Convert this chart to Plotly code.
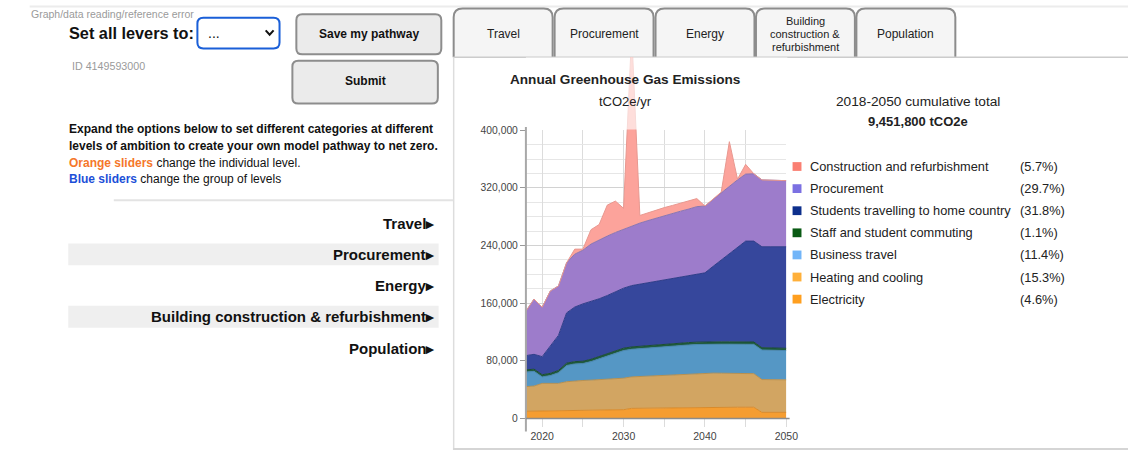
import plotly.graph_objects as go

W, H = 1140, 456
FONT = "Arial, 'Liberation Sans', sans-serif"

# ---------------- data (tCO2e per year) ----------------
years = list(range(2018, 2051))
electricity = [10000, 10200, 10500, 10500, 10600, 10800, 11000, 11200, 11400, 11600, 11800, 12000, 12200,
               14000, 14200, 14400, 14600, 14800, 15000, 15200, 15400, 15500,
               15600, 15600, 15600, 15600, 15600, 15600, 15600,
               8500, 8500, 8500, 8500]
heating = [34200, 34800, 38200, 37700, 38100, 40200, 41300, 41500, 41800, 42100, 42500, 43000, 43700,
           43700, 44100, 44400, 44800, 45200, 45600, 46000, 46400, 46900,
           47400, 47300, 47200, 47100, 46900, 46800, 46600,
           45500, 45300, 45200, 45100]
business = [20200, 20400, 9000, 11300, 14800, 22500, 23400, 23500, 25700, 28800, 31700, 35600, 38300,
            38300, 38700, 39200, 39400, 39600, 39900, 40100, 40200, 40200,
            40000, 40100, 40200, 40300, 40400, 40400, 40600,
            41000, 40900, 40700, 40600]
staff = [3000, 3000, 3000, 3100, 3100, 3200, 3200, 3200, 3200, 3300, 3300, 3300, 3300,
         3300, 3300, 3300, 3300, 3300, 3300, 3300, 3300, 3300,
         3300, 3300, 3300, 3300, 3300, 3300, 3300,
         3200, 3200, 3200, 3200]
students = [19800, 20600, 25100, 37800, 48700, 69800, 75700, 79600, 80400, 80300, 81300, 81700, 83300,
            85100, 86100, 87100, 88200, 89200, 90300, 91500, 92800, 94200,
            95800, 104800, 113800, 122800, 131900, 140000, 140000,
            140100, 140400, 140700, 140900]
procurement = [61600, 76700, 68600, 76500, 68600, 69500, 73400, 74500, 79500, 82000, 82500, 82500, 81800,
               82700, 84700, 86200, 87800, 89500, 90500, 91500, 92500, 93800,
               92700, 93000, 93000, 93000, 93000, 93000, 93500,
               92700, 92400, 92100, 91700]
construction = [0, 0, 0, 0, 0, 0, 7000, 1500, 20000, 21000, 43000, 43500, 29000,
                268000, 10600, 11000, 11000, 11000, 11000, 11000, 11000, 11200,
                0, 0, 1000, 62000, 1000, 13500, 0,
                0, 0, 0, 0]

# bottom -> top stacking order
stack_names = ["Electricity", "Heating and cooling", "Business travel", "Staff and student commuting",
               "Students travelling to home country", "Procurement", "Construction and refurbishment"]
stack_values = [electricity, heating, business, staff, students, procurement, construction]
stack_fill = ["#f59d31", "#d2a562", "#5597c5", "#1f5b3d", "#36479c", "#9d7ccb", "#fca39b"]
stack_line = ["#d98a2a", "#b8904f", "#4a86b0", "#1a4d33", "#2f3d88", "#8a75b0", "#e89890"]

# legend (top -> bottom)
legend_names = ["Construction and refurbishment", "Procurement", "Students travelling to home country",
                "Staff and student commuting", "Business travel", "Heating and cooling", "Electricity"]
legend_colors = ["#fa7f72", "#7b70e2", "#0d2f8c", "#0a5a14", "#72b5f8", "#ffb03a", "#ff9f1f"]
legend_shares = ["(5.7%)", "(29.7%)", "(31.8%)", "(1.1%)", "(11.4%)", "(15.3%)", "(4.6%)"]

x_tick_years = [2020, 2030, 2040, 2050]
x_minor_years = [2025, 2035, 2045]
y_tick_values = [0, 80000, 160000, 240000, 320000, 400000]
y_minor_values = [20000, 40000, 60000, 100000, 120000, 140000, 180000, 200000, 220000,
                  260000, 280000, 300000, 340000, 360000, 380000]

tab_labels = [["Travel"], ["Procurement"], ["Energy"], ["Building", "construction &", "refurbishment"],
              ["Population"]]
menu_labels = ["Travel", "Procurement", "Energy", "Building construction & refurbishment", "Population"]
cumulative_total = "9,451,800 tCO2e"


# ---------------- helpers (pixel -> paper) ----------------
def px(x):
    return x / W


def py(y):
    return 1 - y / H


def f(v):
    return f"{v:.5f}"


def pt(x, y):
    return f"{f(px(x))},{f(py(y))}"


def rrect_path(x0, y0, x1, y1, r):
    return (f"M {pt(x0 + r, y0)} L {pt(x1 - r, y0)} Q {pt(x1, y0)} {pt(x1, y0 + r)} "
            f"L {pt(x1, y1 - r)} Q {pt(x1, y1)} {pt(x1 - r, y1)} L {pt(x0 + r, y1)} "
            f"Q {pt(x0, y1)} {pt(x0, y1 - r)} L {pt(x0, y0 + r)} Q {pt(x0, y0)} {pt(x0 + r, y0)} Z")


def tab_fill_path(x0, y0, x1, y1, r):
    return (f"M {pt(x0, y1)} L {pt(x0, y0 + r)} Q {pt(x0, y0)} {pt(x0 + r, y0)} "
            f"L {pt(x1 - r, y0)} Q {pt(x1, y0)} {pt(x1, y0 + r)} L {pt(x1, y1)} Z")


def tab_line_path(x0, y0, x1, y1, r):
    return (f"M {pt(x0, y1)} L {pt(x0, y0 + r)} Q {pt(x0, y0)} {pt(x0 + r, y0)} "
            f"L {pt(x1 - r, y0)} Q {pt(x1, y0)} {pt(x1, y0 + r)} L {pt(x1, y1)}")


shapes = []
annotations = []


def text(s, x, y, size, color="#222", anchor="left", bold=False):
    annotations.append(dict(
        text=f"<b>{s}</b>" if bold else s, x=px(x), y=py(y), xref="paper", yref="paper",
        xanchor=anchor, yanchor="middle", showarrow=False,
        font=dict(family=FONT, size=size, color=color), borderpad=0))


def hline(x0, x1, y, color, width, layer="below"):
    shapes.append(dict(type="line", xref="paper", yref="paper", x0=px(x0), x1=px(x1), y0=py(y), y1=py(y),
                       line=dict(color=color, width=width), layer=layer))


def vline(x, y0, y1, color, width, layer="below"):
    shapes.append(dict(type="line", xref="paper", yref="paper", x0=px(x), x1=px(x), y0=py(y0), y1=py(y1),
                       line=dict(color=color, width=width), layer=layer))


# ---------------- chart geometry ----------------
PL, PR = 531.5, 794.7          # plot left/right px
Y0, Y400, YTOP = 423.7, 128.3, 53.5
R_TOP = 400000 * (Y0 - YTOP) / (Y0 - Y400)

fig = go.Figure()

# dummy trace for grid subplot
fig.add_trace(go.Scatter(x=[years[0]], y=[0], mode="none", xaxis="x", yaxis="y",
                         hoverinfo="skip", showlegend=False))

for name, vals, fc, lc in zip(stack_names, stack_values, stack_fill, stack_line):
    fig.add_trace(go.Scatter(
        x=years, y=vals, name=name, stackgroup="one", mode="lines",
        line=dict(color=lc, width=1), fillcolor=fc,
        xaxis="x2", yaxis="y2", hoverinfo="skip", showlegend=False))

# ---------------- page decoration ----------------
hline(30, 1140, 1.5, "#ececec", 2)

# tabs
tab_lefts = [458.5, 560.5, 662.5, 764.0, 865.5]
for lines, x0 in zip(tab_labels, tab_lefts):
    x1 = x0 + 100
    shapes.append(dict(type="path", xref="paper", yref="paper", path=tab_fill_path(x0, 3.5, x1, 53.5, 9),
                       fillcolor="#f5f5f5", line=dict(width=0), layer="below"))
    shapes.append(dict(type="path", xref="paper", yref="paper", path=tab_line_path(x0, 3.5, x1, 53.5, 9),
                       fillcolor="rgba(0,0,0,0)", line=dict(color="#8c8c8c", width=2), layer="below"))
    if len(lines) == 1:
        text(lines[0], (x0 + x1) / 2, 29.5, 12, "#222", "center")
    else:
        for k, ln in enumerate(lines):
            text(ln, (x0 + x1) / 2, 16 + 13.4 * k, 11, "#222", "center")

# panel borders
hline(458, 1140, 53.5, "#cccccc", 1.5)
vline(458.5, 53.5, 456, "#dddddd", 1.5)
hline(458, 1140, 455, "#d5d5d5", 2)

# left controls
text("Graph/data reading/reference error", 30.5, 9.5, 10.5, "#9a9a9a")
text("Set all levers to:", 69, 28.5, 16.3, "#111", bold=True)
shapes.append(dict(type="path", xref="paper", yref="paper", path=rrect_path(199.5, 13, 282.5, 44.5, 6),
                   fillcolor="#ffffff", line=dict(color="#1a5fd8", width=2), layer="below"))
text("...", 209, 29, 14, "#111")
shapes.append(dict(type="path", xref="paper", yref="paper",
                   path=f"M {pt(268.5, 26)} L {pt(272.5, 30.5)} L {pt(276.5, 26)}",
                   fillcolor="rgba(0,0,0,0)", line=dict(color="#111", width=2), layer="above"))

shapes.append(dict(type="path", xref="paper", yref="paper", path=rrect_path(299.5, 9.5, 446, 50.5, 6),
                   fillcolor="#ebebeb", line=dict(color="#8d8d8d", width=2), layer="below"))
text("Save my pathway", 372.7, 30, 12, "#111", "center", bold=True)
text("ID 4149593000", 72, 63, 10.7, "#9a9a9a")
shapes.append(dict(type="path", xref="paper", yref="paper", path=rrect_path(295.5, 57, 442.5, 101, 6),
                   fillcolor="#ebebeb", line=dict(color="#8d8d8d", width=2), layer="below"))
text("Submit", 369, 78, 12, "#111", "center", bold=True)

text("Expand the options below to set different categories at different", 69, 127, 12, "#111", bold=True)
text("levels of ambition to create your own model pathway to net zero.", 69, 144.5, 12, "#111", bold=True)
text("<span style='color:#f5772a'><b>Orange sliders</b></span> change the individual level.", 69, 161.5, 12, "#111")
text("<span style='color:#1c4fd8'><b>Blue sliders</b></span> change the group of levels", 69, 178.5, 12, "#111")

hline(115, 458, 200, "#e3e3e3", 2)

for i, lbl in enumerate(menu_labels):
    yc = 223.5 + 32 * i
    if i % 2 == 1:
        shapes.append(dict(type="rect", xref="paper", yref="paper", x0=px(69), x1=px(443.3),
                           y0=py(yc - 11.2), y1=py(yc + 11.2), fillcolor="#efefef",
                           line=dict(width=0), layer="below"))
    text(lbl + "\u25B8", 441, yc, 15, "#111", "right", bold=True)

# chart titles
text("Annual Greenhouse Gas Emissions", 631.7, 76.7, 13.6, "#222", "center", bold=True)
text("tCO2e/yr", 632.5, 99.3, 13, "#222", "center")

# cumulative total + legend
text("2018-2050 cumulative total", 927.8, 99, 13.7, "#222", "center")
text(cumulative_total, 927.5, 119.5, 13, "#222", "center", bold=True)
for i, (nm, col, sh) in enumerate(zip(legend_names, legend_colors, legend_shares)):
    yc = 165.5 + 22.65 * i
    shapes.append(dict(type="rect", xref="paper", yref="paper", x0=px(801), x1=px(810),
                       y0=py(yc - 4.5), y1=py(yc + 4.5), fillcolor=col, line=dict(width=0), layer="above"))
    text(nm, 817.5, yc, 12.8, "#222")
    text(sh, 1030, yc, 12.8, "#222")

# axis lines and fade above 400k
shapes.append(dict(type="rect", xref="paper", yref="paper", x0=px(PL), x1=px(PR + 1), y0=py(Y400 - 0.8),
                   y1=py(YTOP), fillcolor="rgba(255,255,255,0.64)", line=dict(width=0), layer="above"))
vline(PL, 125, 437, "#a8a8a8", 2, layer="above")
hline(PL, 798, Y0, "#8c8c8c", 1.5, layer="above")

fig.update_layout(
    width=W, height=H, margin=dict(l=0, r=0, t=0, b=0),
    paper_bgcolor="#ffffff", plot_bgcolor="rgba(0,0,0,0)",
    showlegend=False, hovermode=False,
    font=dict(family=FONT, color="#444"),
    shapes=shapes, annotations=annotations,
    xaxis=dict(domain=[px(PL), px(PR)], range=[years[0], years[-1]], anchor="y",
               tickmode="array", tickvals=x_tick_years, ticks="outside", ticklen=8, tickcolor="#dcdcdc",
               showgrid=True, gridcolor="#dcdcdc", gridwidth=1, zeroline=False, showline=False,
               minor=dict(tickmode="array", tickvals=x_minor_years, showgrid=True, gridcolor="#dcdcdc",
                          ticks="outside", ticklen=8, tickcolor="#dcdcdc"),
               tickfont=dict(family=FONT, size=10.5, color="#444"), fixedrange=True),
    yaxis=dict(domain=[py(Y0), py(Y400)], range=[0, 400000], anchor="x",
               tickmode="array", tickvals=y_tick_values, tickformat=",d", ticks="outside", ticklen=5,
               tickcolor="#999999", showgrid=True, gridcolor="#d2d2d2", zeroline=False, showline=False,
               minor=dict(tickmode="array", tickvals=y_minor_values, showgrid=True, gridcolor="#e6e6e6"),
               tickfont=dict(family=FONT, size=10.3, color="#444"), fixedrange=True),
    xaxis2=dict(domain=[px(PL), px(PR)], range=[years[0], years[-1]], anchor="y2", visible=False,
                fixedrange=True),
    yaxis2=dict(domain=[py(Y0), py(YTOP)], range=[0, R_TOP], anchor="x2", visible=False, fixedrange=True),
)

page_fix = ("document.documentElement.style.margin='0';document.documentElement.style.overflow='hidden';"
            "document.body.style.margin='0';document.body.style.padding='0';document.body.style.overflow='hidden';")
fig.write_html("out.html", config={"displayModeBar": False}, post_script=page_fix)
